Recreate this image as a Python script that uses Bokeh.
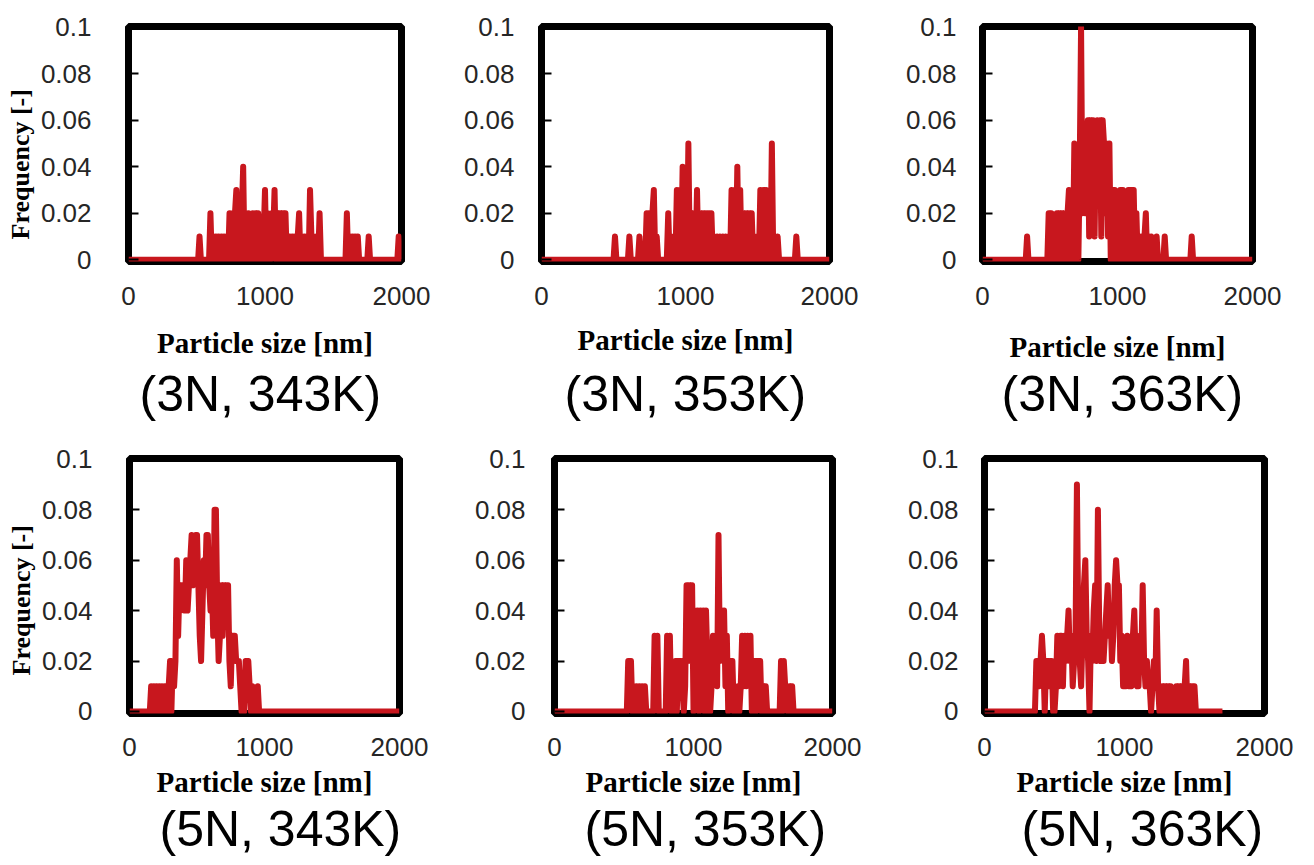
from bokeh.plotting import figure
from bokeh.layouts import row, column
from bokeh.models import Range1d, FixedTicker, Title
from bokeh.embed import file_html
from bokeh.resources import INLINE

# ---------------- data ----------------
conditions = ["(3N, 343K)", "(3N, 353K)", "(3N, 363K)",
              "(5N, 343K)", "(5N, 353K)", "(5N, 363K)"]
x_ticks = [0, 1000, 2000]
y_ticks = [0, 0.02, 0.04, 0.06, 0.08, 0.1]
y_tick_labels = ["0", "0.02", "0.04", "0.06", "0.08", "0.1"]
x_label = "Particle size [nm]"
y_label = "Frequency [-]"

# (particle size [nm], frequency [-])
dist_3n_343k = [(0, 0), (510, 0), (520, 0.01), (530, 0), (590, 0), (600, 0.02), (610, 0), (620, 0.01), (630, 0),
    (640, 0.01), (650, 0), (660, 0.01), (670, 0), (680, 0.01), (690, 0), (700, 0.01), (710, 0), (720, 0.01),
    (730, 0), (740, 0.02), (750, 0), (760, 0.02), (770, 0), (780, 0.02), (790, 0.03), (800, 0), (810, 0.02),
    (820, 0), (830, 0.02), (840, 0.04), (850, 0), (860, 0.02), (870, 0), (880, 0.02), (890, 0), (900, 0),
    (910, 0.02), (920, 0), (930, 0.02), (940, 0), (950, 0.02), (960, 0.01), (970, 0), (980, 0), (990, 0.01),
    (1000, 0.03), (1010, 0), (1020, 0.02), (1030, 0), (1040, 0), (1050, 0.02), (1060, 0.01), (1070, 0.03),
    (1080, 0), (1090, 0.02), (1100, 0), (1110, 0.02), (1120, 0), (1130, 0.02), (1140, 0), (1150, 0.02),
    (1160, 0), (1170, 0), (1180, 0.01), (1190, 0), (1200, 0.01), (1210, 0), (1220, 0.01), (1230, 0),
    (1240, 0.01), (1250, 0.02), (1260, 0), (1270, 0.01), (1280, 0), (1290, 0.01), (1300, 0), (1310, 0.01),
    (1320, 0), (1330, 0.03), (1340, 0.01), (1350, 0), (1360, 0.01), (1370, 0), (1380, 0.01), (1390, 0),
    (1400, 0.02), (1410, 0), (1590, 0), (1600, 0.02), (1610, 0), (1620, 0.01), (1630, 0), (1640, 0.01),
    (1650, 0), (1660, 0.01), (1670, 0), (1680, 0.01), (1690, 0), (1750, 0), (1760, 0.01), (1770, 0),
    (1970, 0), (1980, 0.01), (1990, 0), (2000, 0)]

dist_3n_353k = [(0, 0), (500, 0), (510, 0.01), (520, 0), (600, 0), (610, 0.01), (620, 0), (670, 0), (680, 0.01),
    (690, 0), (720, 0), (730, 0.02), (740, 0), (750, 0.02), (760, 0), (770, 0.02), (780, 0.03), (790, 0),
    (800, 0.01), (810, 0), (870, 0), (880, 0.02), (890, 0), (900, 0.01), (910, 0), (920, 0.01), (930, 0),
    (940, 0.03), (950, 0), (960, 0.03), (970, 0), (980, 0.04), (990, 0), (1000, 0.03), (1010, 0), (1020, 0.05),
    (1030, 0), (1040, 0.02), (1050, 0), (1060, 0.02), (1070, 0), (1080, 0.03), (1090, 0), (1100, 0.02),
    (1110, 0), (1120, 0.02), (1130, 0), (1140, 0.02), (1150, 0), (1160, 0.02), (1170, 0), (1180, 0.02),
    (1190, 0), (1200, 0.01), (1210, 0), (1220, 0.01), (1230, 0), (1240, 0.01), (1250, 0), (1260, 0.01),
    (1270, 0), (1280, 0.01), (1290, 0), (1300, 0.01), (1310, 0), (1320, 0.03), (1330, 0), (1340, 0.03),
    (1350, 0), (1360, 0.04), (1370, 0), (1380, 0.03), (1390, 0), (1400, 0.02), (1410, 0), (1420, 0.02),
    (1430, 0), (1440, 0.02), (1450, 0), (1460, 0.02), (1470, 0), (1480, 0.01), (1490, 0), (1500, 0.01),
    (1510, 0), (1520, 0.03), (1530, 0), (1540, 0.03), (1550, 0), (1560, 0.03), (1570, 0), (1580, 0.01),
    (1590, 0), (1600, 0.05), (1610, 0), (1620, 0.01), (1630, 0), (1640, 0.01), (1650, 0), (1760, 0),
    (1770, 0.01), (1780, 0), (2000, 0)]

dist_3n_363k = [(0, 0), (320, 0), (330, 0.01), (340, 0), (480, 0), (490, 0.02), (500, 0), (510, 0.02), (520, 0.01),
    (530, 0), (540, 0), (550, 0.02), (560, 0), (570, 0.02), (580, 0), (590, 0.02), (600, 0), (610, 0.02),
    (620, 0), (630, 0.02), (640, 0.03), (650, 0), (660, 0.02), (670, 0), (680, 0.05), (690, 0), (700, 0.03),
    (710, 0), (720, 0.04), (730, 0.10), (740, 0.02), (750, 0.04), (760, 0.02), (770, 0.04), (780, 0.06),
    (790, 0.01), (800, 0.06), (810, 0.03), (820, 0.06), (830, 0.01), (840, 0.05), (850, 0.06), (860, 0.03),
    (870, 0.06), (880, 0.01), (890, 0.06), (900, 0.05), (910, 0.02), (920, 0.05), (930, 0.01), (940, 0.05),
    (950, 0), (960, 0.03), (970, 0), (980, 0.03), (990, 0), (1000, 0.01), (1010, 0), (1020, 0.03), (1030, 0),
    (1040, 0.03), (1050, 0), (1060, 0.01), (1070, 0), (1080, 0.03), (1090, 0), (1100, 0.03), (1110, 0),
    (1120, 0.03), (1130, 0), (1140, 0.02), (1150, 0), (1160, 0.01), (1170, 0), (1180, 0.01), (1190, 0),
    (1200, 0.01), (1210, 0.02), (1220, 0), (1230, 0.01), (1240, 0), (1250, 0.01), (1260, 0), (1280, 0),
    (1290, 0.01), (1300, 0), (1340, 0), (1350, 0.01), (1360, 0), (1540, 0), (1550, 0.01), (1560, 0), (2000, 0)]

dist_5n_343k = [(0, 0), (150, 0), (160, 0.01), (170, 0), (180, 0.01), (190, 0), (200, 0.01), (210, 0), (220, 0.01),
    (230, 0), (240, 0.01), (250, 0), (260, 0.01), (270, 0.01), (280, 0), (290, 0.01), (300, 0.02), (310, 0),
    (320, 0.02), (330, 0.01), (340, 0.02), (350, 0.06), (360, 0.03), (370, 0.05), (380, 0.04), (390, 0.05),
    (400, 0.05), (410, 0.04), (420, 0.06), (430, 0.04), (440, 0.05), (450, 0.06), (460, 0.07), (470, 0.05),
    (480, 0.06), (490, 0.07), (500, 0.07), (510, 0.05), (520, 0.03), (530, 0.02), (540, 0.04), (550, 0.06),
    (560, 0.05), (570, 0.07), (580, 0.07), (590, 0.05), (600, 0.04), (610, 0.05), (620, 0.03), (630, 0.08),
    (640, 0.08), (650, 0.04), (660, 0.02), (670, 0.03), (680, 0.05), (690, 0.03), (700, 0.05), (710, 0.04),
    (720, 0.05), (730, 0.05), (740, 0.02), (750, 0.01), (760, 0.03), (770, 0.03), (780, 0.03), (790, 0.02),
    (800, 0.02), (810, 0.02), (820, 0.01), (830, 0), (850, 0), (860, 0.02), (870, 0.01), (880, 0.02),
    (890, 0.01), (900, 0), (910, 0.01), (920, 0), (940, 0), (950, 0.01), (960, 0), (2000, 0)]

dist_5n_353k = [(0, 0), (520, 0), (530, 0.02), (540, 0.01), (550, 0.02), (560, 0), (570, 0.01), (580, 0), (590, 0.01),
    (600, 0), (610, 0.01), (620, 0), (630, 0.01), (640, 0), (650, 0.01), (660, 0), (710, 0), (720, 0.03),
    (730, 0.01), (740, 0.03), (750, 0), (800, 0), (810, 0.03), (820, 0.01), (830, 0.03), (840, 0), (860, 0),
    (870, 0.02), (880, 0), (890, 0.02), (900, 0.01), (910, 0.02), (920, 0.01), (930, 0), (940, 0.01),
    (950, 0.05), (960, 0.02), (970, 0.05), (980, 0.02), (990, 0.05), (1000, 0), (1010, 0.04), (1020, 0.01),
    (1030, 0.04), (1040, 0), (1050, 0.04), (1060, 0.02), (1070, 0.04), (1080, 0), (1090, 0.04), (1100, 0.02),
    (1110, 0), (1120, 0), (1130, 0.01), (1140, 0.03), (1150, 0.02), (1160, 0.03), (1170, 0.01), (1180, 0.07),
    (1190, 0.02), (1200, 0.04), (1210, 0.03), (1220, 0.04), (1230, 0.01), (1240, 0.03), (1250, 0),
    (1260, 0.02), (1270, 0.01), (1280, 0.02), (1290, 0), (1310, 0), (1320, 0.01), (1330, 0), (1340, 0.01),
    (1350, 0.03), (1360, 0.01), (1370, 0.03), (1380, 0.01), (1390, 0.03), (1400, 0.02), (1410, 0.03),
    (1420, 0), (1430, 0.01), (1440, 0.02), (1450, 0), (1460, 0.02), (1470, 0.01), (1480, 0.02), (1490, 0),
    (1500, 0.01), (1510, 0), (1520, 0.01), (1530, 0), (1620, 0), (1630, 0.02), (1640, 0), (1650, 0.02),
    (1660, 0.01), (1670, 0.01), (1680, 0), (1690, 0.01), (1700, 0), (1710, 0.01), (1720, 0), (2000, 0)]

dist_5n_363k = [(0, 0), (360, 0), (370, 0.02), (380, 0.02), (390, 0.01), (400, 0.02), (410, 0.03), (420, 0.02),
    (430, 0), (440, 0.02), (450, 0.02), (460, 0.01), (470, 0.02), (480, 0.02), (490, 0), (500, 0), (510, 0.01),
    (520, 0.03), (530, 0.01), (540, 0.03), (550, 0.03), (560, 0.01), (570, 0.03), (580, 0.02), (590, 0.03),
    (600, 0.04), (610, 0.02), (620, 0.03), (630, 0.01), (640, 0.02), (650, 0.03), (660, 0.09), (670, 0.03),
    (680, 0.02), (690, 0.01), (700, 0.03), (710, 0.05), (720, 0.06), (730, 0.03), (740, 0.02), (750, 0),
    (760, 0.03), (770, 0.02), (780, 0.04), (790, 0.05), (800, 0.02), (810, 0.08), (820, 0.03), (830, 0.02),
    (840, 0.03), (850, 0.02), (860, 0.03), (870, 0.04), (880, 0.05), (890, 0.03), (900, 0.04), (910, 0.02),
    (920, 0.03), (930, 0.05), (940, 0.06), (950, 0.05), (960, 0.05), (970, 0.02), (980, 0.03), (990, 0.01),
    (1000, 0.02), (1010, 0.01), (1020, 0.03), (1030, 0.01), (1040, 0.02), (1050, 0.01), (1060, 0.03),
    (1070, 0.04), (1080, 0.02), (1090, 0.01), (1100, 0.01), (1110, 0.03), (1120, 0.02), (1130, 0.05),
    (1140, 0.02), (1150, 0.01), (1160, 0.02), (1170, 0.01), (1180, 0.01), (1190, 0), (1200, 0.01),
    (1210, 0.02), (1220, 0.01), (1230, 0.04), (1240, 0.01), (1250, 0), (1260, 0), (1270, 0.01), (1280, 0),
    (1290, 0.01), (1300, 0), (1310, 0.01), (1320, 0), (1330, 0.01), (1340, 0), (1360, 0), (1370, 0.01),
    (1380, 0), (1390, 0.01), (1400, 0), (1410, 0.01), (1420, 0), (1430, 0.01), (1440, 0.02), (1450, 0),
    (1460, 0.01), (1470, 0), (1480, 0.01), (1490, 0), (1500, 0.01), (1510, 0), (1700, 0)]

distributions = [dist_3n_343k, dist_3n_353k, dist_3n_363k, dist_5n_343k, dist_5n_353k, dist_5n_363k]

# ---------------- styling / layout ----------------
RED = "#C8171E"
SANS = "Liberation Sans"
SERIF = "Liberation Serif"
TICK_PX, XLAB_PX, COND_PX, YLAB_PX = 26, 29, 50, 26
H_TICK, H_XLAB, H_COND = 20, 35.5, 62.5   # text-box heights (px)
COND_W = 242                              # approx. width of a condition text

# rows: canvas top/height, shared frame top/bottom, tick standoff, x-label and caption centres
rows_geo = [dict(y0=0, h=440, ft=26, fb=261, xs=25, xlab_c=(343, 340, 347), cond_c=396),
            dict(y0=440, h=425, ft=458, fb=713, xs=24, xlab_c=(782, 782, 782), cond_c=831)]
# columns per panel: canvas x0/width, frame left/right, y tick standoff, caption centre x
cols_geo = [
    [dict(x0=0, w=440, fl=128, fr=401, ys=37, cx=260),
     dict(x0=440, w=440, fl=541, fr=829, ys=27, cx=685),
     dict(x0=880, w=434, fl=982, fr=1252, ys=26, cx=1122)],
    [dict(x0=0, w=440, fl=129, fr=399, ys=37, cx=280),
     dict(x0=440, w=440, fl=554, fr=832, ys=29, cx=705),
     dict(x0=880, w=434, fl=984, fr=1264, ys=26, cx=1142)],
]
ylab_start = [239, 675]   # page y where the rotated y label starts (its lower end)


def make_panel(pairs, cond, rg, cg, col_idx, row_idx):
    p = figure(width=cg["w"], height=rg["h"], output_backend="svg", toolbar_location=None,
               x_range=Range1d(-0.5, 2000.5), y_range=Range1d(-0.0008, 0.1003),
               min_border_left=cg["fl"] - cg["x0"], min_border_right=cg["x0"] + cg["w"] - cg["fr"],
               min_border_top=rg["ft"] - rg["y0"], min_border_bottom=rg["y0"] + rg["h"] - rg["fb"],
               background_fill_color="white", border_fill_color="white")
    p.outline_line_color = "black"
    p.outline_line_width = 7
    p.outline_line_alpha = 1.0
    p.xgrid.grid_line_color = None
    p.ygrid.grid_line_color = None

    sizes = [s for s, f in pairs]
    freqs = [f for s, f in pairs]
    p.line(sizes, freqs, line_color=RED, line_width=6, line_join="round")

    # x axis and its label
    xa = p.xaxis[0]
    xa.ticker = FixedTicker(ticks=x_ticks)
    xa.axis_line_color = None
    xa.major_tick_line_color = None
    xa.major_tick_in = 0
    xa.major_tick_out = 0
    xa.minor_tick_line_color = None
    xa.minor_tick_out = 0
    xa.major_label_text_font = SANS
    xa.major_label_text_font_size = f"{TICK_PX}px"
    xa.major_label_text_color = "#262626"
    xa.major_label_standoff = rg["xs"]
    axis_bottom = rg["fb"] + rg["xs"] + H_TICK
    xc = rg["xlab_c"][col_idx]
    a_stand = max(0, int(round(xc - H_XLAB / 2 - axis_bottom)))
    xa.axis_label = x_label
    xa.axis_label_text_font = SERIF
    xa.axis_label_text_font_style = "bold"
    xa.axis_label_text_font_size = f"{XLAB_PX}px"
    xa.axis_label_text_color = "black"
    xa.axis_label_standoff = a_stand
    xlab_bottom = axis_bottom + a_stand + H_XLAB

    # y axis
    ya = p.yaxis[0]
    ya.ticker = FixedTicker(ticks=y_ticks)
    ya.major_label_overrides = dict(zip(y_ticks, y_tick_labels))
    ya.axis_line_color = None
    ya.major_tick_in = 10
    ya.major_tick_out = 0
    ya.major_tick_line_width = 2
    ya.major_tick_line_color = "black"
    ya.minor_tick_line_color = None
    ya.minor_tick_out = 0
    ya.major_label_text_font = SANS
    ya.major_label_text_font_size = f"{TICK_PX}px"
    ya.major_label_text_color = "#262626"
    ya.major_label_standoff = cg["ys"]

    # condition caption below the x label
    c_stand = max(0, int(round(2 * (rg["cond_c"] - H_COND / 2 - xlab_bottom))))
    p.add_layout(Title(text=cond, align="left", vertical_align="top",
                       offset=int(round(cg["cx"] - COND_W / 2 - cg["fl"])),
                       standoff=c_stand,
                       text_font=SANS, text_font_size=f"{COND_PX}px",
                       text_font_style="normal", text_color="black"), "below")

    # y label on the left column only
    if col_idx == 0:
        p.add_layout(Title(text=y_label, align="left", vertical_align="middle",
                           offset=rg["fb"] - ylab_start[row_idx], standoff=4,
                           text_font=SERIF, text_font_size=f"{YLAB_PX}px",
                           text_font_style="bold", text_color="black"), "left")
    return p


figs = []
for r in range(2):
    for c in range(3):
        figs.append(make_panel(distributions[3 * r + c], conditions[3 * r + c],
                               rows_geo[r], cols_geo[r][c], c, r))

layout = column(row(*figs[:3], spacing=0), row(*figs[3:], spacing=0), spacing=0)

open("out.html", "w").write(file_html(layout, INLINE))
